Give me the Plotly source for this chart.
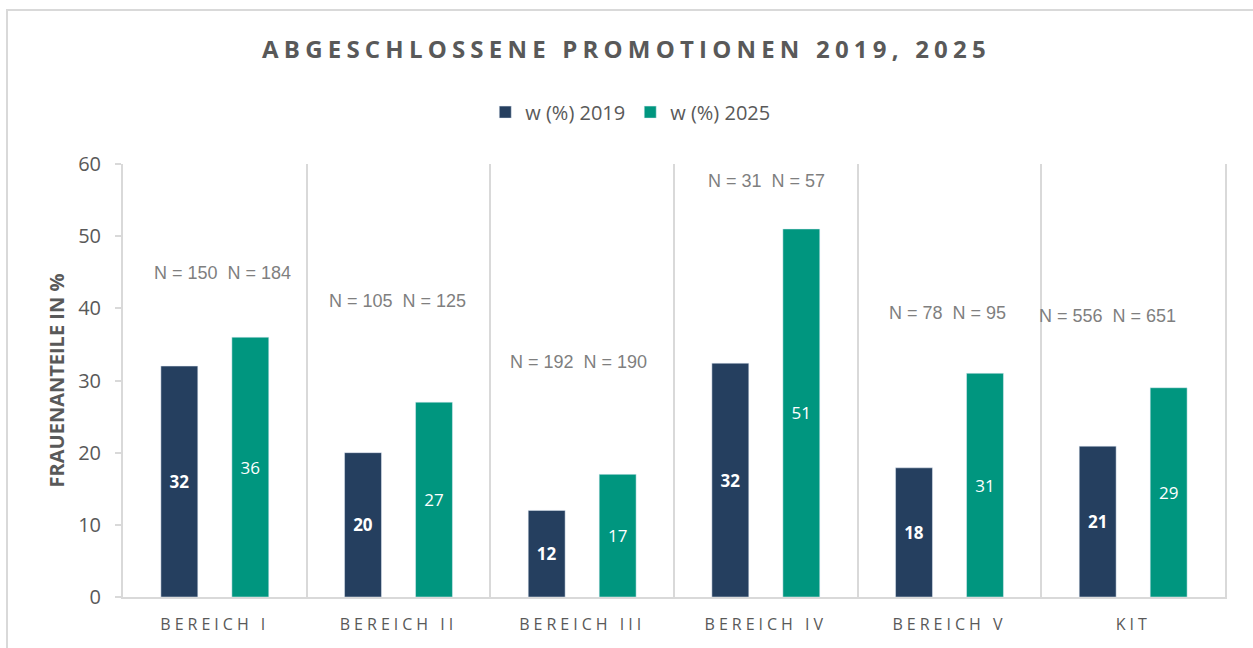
import plotly.graph_objects as go

categories = ["BEREICH I", "BEREICH II", "BEREICH III", "BEREICH IV", "BEREICH V", "KIT"]
w_2019 = [32.0, 20.0, 12.0, 32.4, 17.9, 20.9]
w_2025 = [36.0, 27.0, 17.0, 51.0, 31.0, 29.0]
n_2019 = [150, 105, 192, 31, 78, 556]
n_2025 = [184, 125, 190, 57, 95, 651]
n_label_y = [44.9, 41.0, 32.6, 57.6, 39.4, 38.9]
n_label_xshift = [8, -1, -4, 1, -2, -26]

NAVY = "#253F5F"
TEAL = "#00967F"
GRID = "#D9D9D9"
TXT = "#595959"

fig = go.Figure()
fig.add_trace(go.Bar(
    x=categories, y=w_2019, name="w (%) 2019", marker_color=NAVY,
    texttemplate="<b>%{y:.0f}</b>", textposition="inside", insidetextanchor="middle",
    textfont=dict(family="Open Sans", size=17, color="white"), textangle=0,
))
fig.add_trace(go.Bar(
    x=categories, y=w_2025, name="w (%) 2025", marker_color=TEAL,
    texttemplate="%{y:.0f}", textposition="inside", insidetextanchor="middle",
    textfont=dict(family="Open Sans", size=17, color="white"), textangle=0,
))

for cat, a, b, yy, xs in zip(categories, n_2019, n_2025, n_label_y, n_label_xshift):
    fig.add_annotation(x=cat, y=yy, text=f"N = {a}&nbsp;&nbsp;N = {b}", showarrow=False,
                       xshift=xs, font=dict(family="Liberation Sans", size=18, color="#7F7F7F"))

fig.update_layout(
    width=1253, height=648,
    margin=dict(l=123, r=28, t=164, b=51),
    paper_bgcolor="white", plot_bgcolor="white",
    barmode="group", bargap=0.227, bargroupgap=0.48,
    title=dict(text="<b>ABGESCHLOSSENE PROMOTIONEN 2019, 2025</b>", xref="container", x=0.5,
               xanchor="center", yref="container", y=0.923, yanchor="middle",
               font=dict(family="Open Sans", size=24, color=TXT)),
    legend=dict(orientation="h", xref="container", x=0.503, xanchor="center",
                yref="container", y=0.827, yanchor="middle",
                font=dict(family="Open Sans", size=20, color=TXT), itemwidth=30),
    showlegend=True,
    xaxis=dict(tickson="boundaries", showgrid=True, gridcolor=GRID, gridwidth=2,
               showline=True, linecolor=GRID, linewidth=2, ticks="",
               tickfont=dict(family="Open Sans", size=16, color=TXT), ticklabelstandoff=12),
    yaxis=dict(range=[0, 60], dtick=10, showgrid=False, zeroline=False,
               showline=True, linecolor=GRID, linewidth=2, mirror=True,
               ticks="outside", ticklen=6, tickcolor=GRID, tickwidth=2,
               tickfont=dict(family="Open Sans", size=20, color=TXT), ticklabelstandoff=10,
               title=dict(text="<b>FRAUENANTEILE IN %</b>", standoff=8,
                          font=dict(family="Open Sans", size=20, color=TXT))),
    shapes=[dict(type="rect", xref="paper", yref="paper",
                 x0=(7 - 123) / 1102, x1=1.1, y0=-0.3, y1=1 + (164 - 10) / 433,
                 line=dict(color=GRID, width=2), fillcolor="rgba(0,0,0,0)", layer="below")],
)

post = """
document.body.style.margin='0';
var gd=document.getElementById('{plot_id}');
function sp(){
 gd.querySelectorAll('.gtitle').forEach(function(e){e.style.letterSpacing='5.2px';});
 gd.querySelectorAll('.xtick text').forEach(function(e){e.style.letterSpacing='4px';});
}
sp();
gd.on('plotly_afterplot', sp);
"""
fig.write_html("out.html", post_script=post, config={"displayModeBar": False})
